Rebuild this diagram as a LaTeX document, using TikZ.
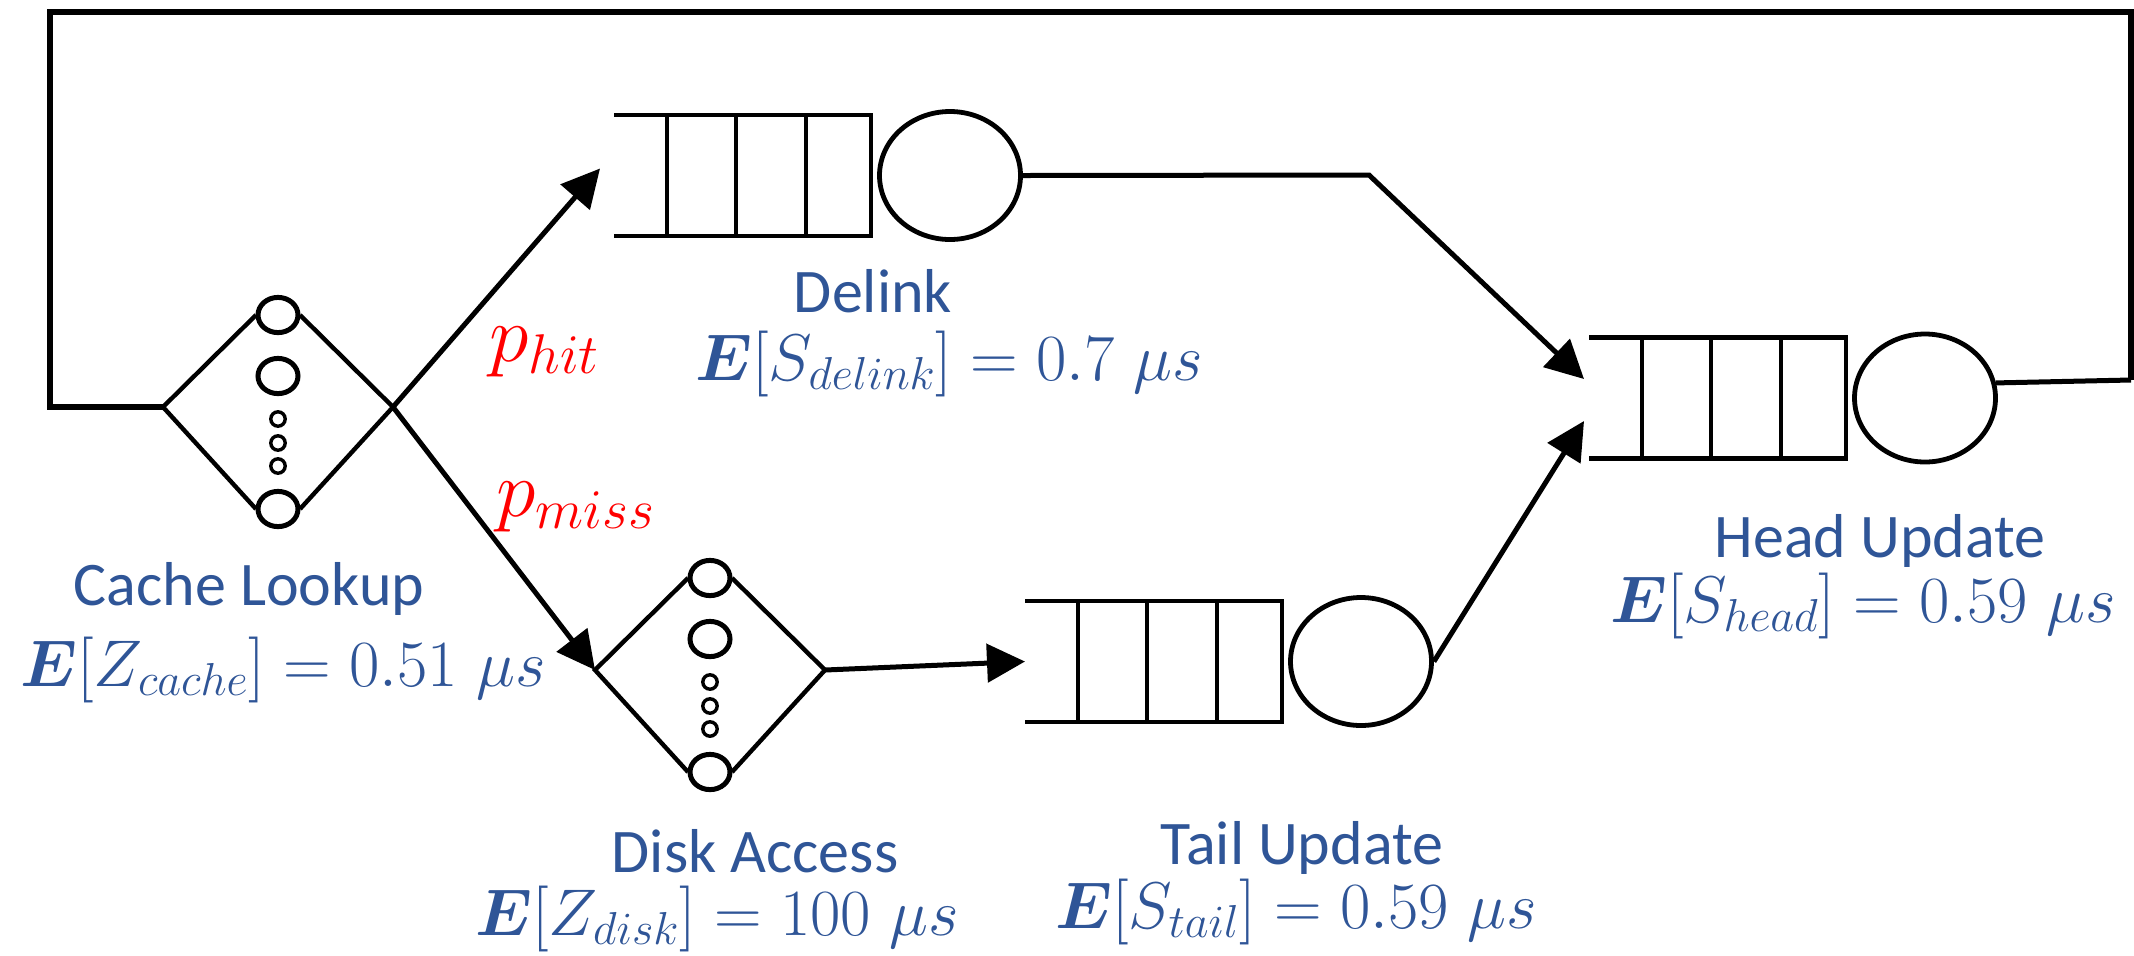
\RequirePackage{fix-cm}
\documentclass[tikz,border=0pt]{standalone}
\usepackage{bm}
\usepackage{fontspec}
\setmainfont{Carlito}
\usetikzlibrary{arrows.meta,shapes.geometric}
\definecolor{txtblue}{HTML}{2F5597}
\definecolor{txtred}{HTML}{FF0000}
\tikzset{
  conn/.style={line width=2.5pt},
  loopline/.style={line width=3pt},
  arr/.style={conn,-{Triangle[length=19pt,width=19pt]}},
  qline/.style={line width=2.2pt},
  dline/.style={line width=2.2pt},
  bigcirc/.style={line width=2.5pt,fill=white},
  smallcirc/.style={line width=1.7pt,fill=white},
  server/.style={ellipse,draw,line width=2.4pt,minimum width=70.5pt,minimum height=64pt,inner sep=0pt,fill=white},
  lbl/.style={text=txtblue,font=\fontsize{31pt}{37pt}\selectfont,anchor=base,inner sep=0pt},
  flbl/.style={text=txtblue,font=\fontsize{33pt}{40pt}\selectfont,anchor=base,inner sep=0pt},
  plbl/.style={text=txtred,font=\fontsize{40pt}{48pt}\selectfont,anchor=base west,inner sep=0pt},
  queue/.pic={
    \draw[qline] (0,-60.5) -- (257,-60.5) -- (257,60.5) -- (0,60.5);
    \foreach \xx in {53,122,192} \draw[qline] (\xx,-60.5) -- (\xx,60.5);
    \node[server] (-srv) at (336,0) {};
    \coordinate (-in) at (0,0);
    \coordinate (-inu) at (-5,-19);
    \coordinate (-ind) at (-5,23);
    \coordinate (-inl) at (-14,-7);
  },
  delay/.pic={
    \draw[dline] (-22,-92) -- (-115,0) -- (-22,102);
    \draw[dline] (22,-92) -- (115,0) -- (22,102);
    \draw[bigcirc] (0,-92) ellipse [x radius=10pt, y radius=8.8pt];
    \draw[bigcirc] (0,-31) ellipse [x radius=10pt, y radius=8.8pt];
    \draw[bigcirc] (0,102) ellipse [x radius=10pt, y radius=8.8pt];
    \foreach \yy in {12,36,59} \draw[smallcirc] (0,\yy) ellipse [x radius=3.6pt, y radius=3.6pt];
    \coordinate (-w) at (-115,0);
    \coordinate (-e) at (115,0);
  }
}
\begin{document}
\begin{tikzpicture}[x=0.5pt,y=-0.5pt]
\useasboundingbox (0,0) rectangle (2134,955);

% stations
\pic (dq) at (614,175.5) {queue};
\pic (hq) at (1589,398) {queue};
\pic (tq) at (1025,661.5) {queue};
\pic (cl) at (278,407) {delay};
\pic (da) at (710,670) {delay};

% helper coordinates
\coordinate (bend) at (1369,175);
\coordinate (r1) at (2131,380);
\coordinate (tr) at (2131,12);
\coordinate (tl) at (50,12);
\coordinate (bl) at (50,407);

% connectors
\draw[arr] (cl-e) -- (dq-inl);
\draw[arr] (cl-e) -- (da-w);
\draw[arr] (da-e) -- (tq-in);
\draw[arr] (dq-srv.east) -- (bend) -- (hq-inu);
\draw[arr] (tq-srv.east) -- (hq-ind);
\draw[conn] (hq-srv.12) -- (r1);
\draw[loopline] (r1) -- (tr) -- (tl) -- (bl) -- (cl-w);

% labels
\node[plbl] (phit) at (489,361) {$p_{hit}$};
\node[plbl] (pmiss) at (496,516) {$p_{miss}$};
\node[lbl] (ldl) at (873,312) {Delink};
\node[flbl] (fdl) at (949,380) {$\bm{E}[S_{delink}]=0.7\;\mu s$};
\node[lbl] (lcl) at (249,605) {Cache Lookup};
\node[flbl] (fcl) at (283,686) {$\bm{E}[Z_{cache}]=0.51\;\mu s$};
\node[lbl] (lda) at (755,872) {Disk Access};
\node[flbl] (fda) at (717,935) {$\bm{E}[Z_{disk}]=100\;\mu s$};
\node[lbl] (ltu) at (1302,864) {Tail Update};
\node[flbl] (ftu) at (1296,928) {$\bm{E}[S_{tail}]=0.59\;\mu s$};
\node[lbl] (lhu) at (1880,557) {Head Update};
\node[flbl] (fhu) at (1863,622) {$\bm{E}[S_{head}]=0.59\;\mu s$};
\end{tikzpicture}
\end{document}
